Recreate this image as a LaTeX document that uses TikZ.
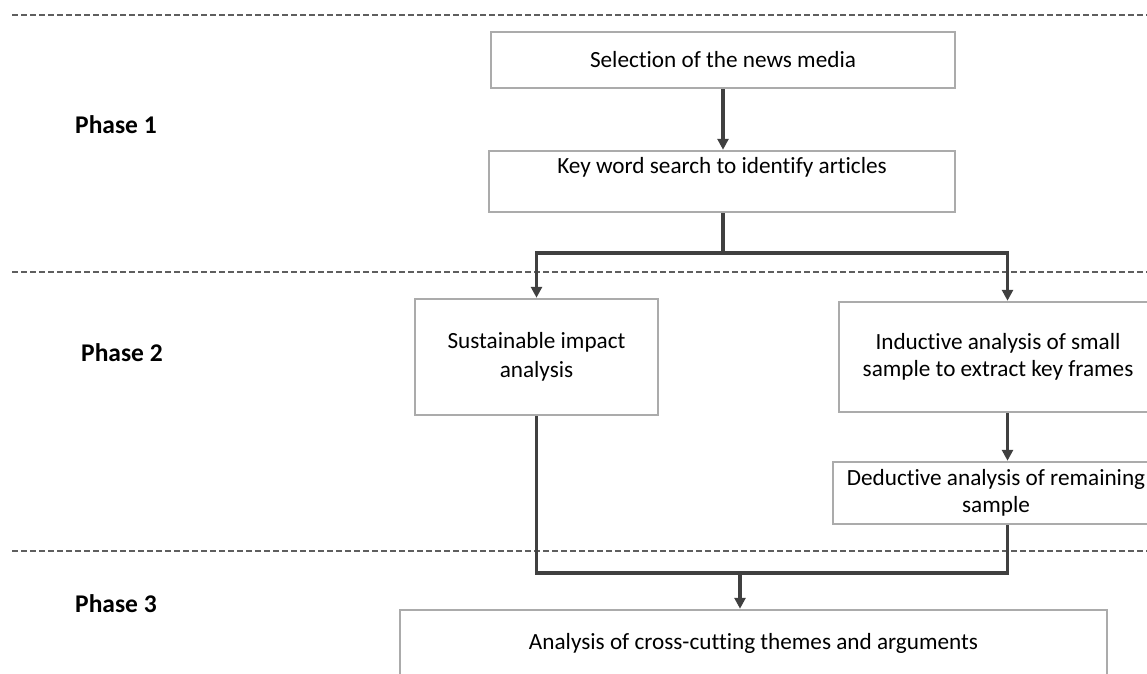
\documentclass[tikz,border=0pt]{standalone}
\usepackage{fontspec}
\setmainfont{Carlito}[Ligatures=NoCommon]
\usetikzlibrary{arrows.meta}
\definecolor{boxgray}{HTML}{ABABAB}
\definecolor{linegray}{HTML}{404040}
\definecolor{dashgray}{HTML}{5E5E5E}
\begin{document}
\begin{tikzpicture}[x=1pt,y=-1pt,
  box/.style={draw=boxgray, line width=2.5pt, fill=white, inner sep=0pt, align=center, font=\fontsize{23.2}{27.5}\selectfont},
  txt/.style={inner sep=0pt, align=center, font=\fontsize{23.2}{27.5}\selectfont},
  conn/.style={draw=linegray, line width=3.2pt},
  arr/.style={conn, -{Triangle[length=11pt,width=11pt]}},
  sep/.style={draw=dashgray, line width=2.2pt, dash pattern=on 6pt off 3pt},
  phase/.style={font=\fontsize{25.5}{30}\selectfont\bfseries, anchor=west, inner sep=0pt}]
\useasboundingbox (0,0) rectangle (1147,673);
\clip (0,0) rectangle (1147,673);
% phase separators
\coordinate (s1a) at (12,15);  \coordinate (s1b) at (1147,15);
\coordinate (s2a) at (12,272); \coordinate (s2b) at (1147,272);
\coordinate (s3a) at (12,551); \coordinate (s3b) at (1147,551);
\draw[sep] (s1a) -- (s1b);
\draw[sep] (s2a) -- (s2b);
\draw[sep] (s3a) -- (s3b);
% phase labels
\node[phase] (p1) at (75,125) {Phase 1};
\node[phase] (p2) at (81,353) {Phase 2};
\node[phase] (p3) at (75,604) {Phase 3};
% boxes
\node[box, minimum width=464pt, minimum height=56pt] (b1) at (723,60) {Selection of the news media};
\node[box, minimum width=466pt, minimum height=61pt] (b2) at (722,181.5) {};
\node[txt] (b2t) at (722,167) {Key word search to identify articles};
\node[box, minimum width=243pt, minimum height=116pt] (b3) at (536.5,357) {Sustainable impact\\[2pt]analysis};
\node[box, minimum width=318pt, minimum height=110pt] (b4) at (998,357) {Inductive analysis of small\\sample to extract key frames};
\node[box, minimum width=326pt, minimum height=62pt] (b5) at (996,493) {Deductive analysis of remaining\\sample};
\node[box, minimum width=707pt, minimum height=90pt] (b6) at (753.5,655) {};
\node[txt] (b6t) at (753.5,643) {Analysis of cross-cutting themes and arguments};
% connectors
\coordinate (split) at (723,253);
\coordinate (rx) at (1007.5,0);
\coordinate (merge) at (740,573);
\draw[arr] (b1.south) -- (b1.south |- b2.north);
\draw[conn] (b2.south -| split) -- (split);
\draw[arr] (split) -| (b3.north);
\draw[arr] (split) -| (b4.north -| rx);
\draw[arr] (b4.south -| rx) -- (b5.north -| rx);
\draw[conn] (b3.south) |- (merge);
\draw[conn] (b5.south -| rx) |- (merge);
\draw[arr] (merge) -- (b6.north -| merge);
\end{tikzpicture}
\end{document}
